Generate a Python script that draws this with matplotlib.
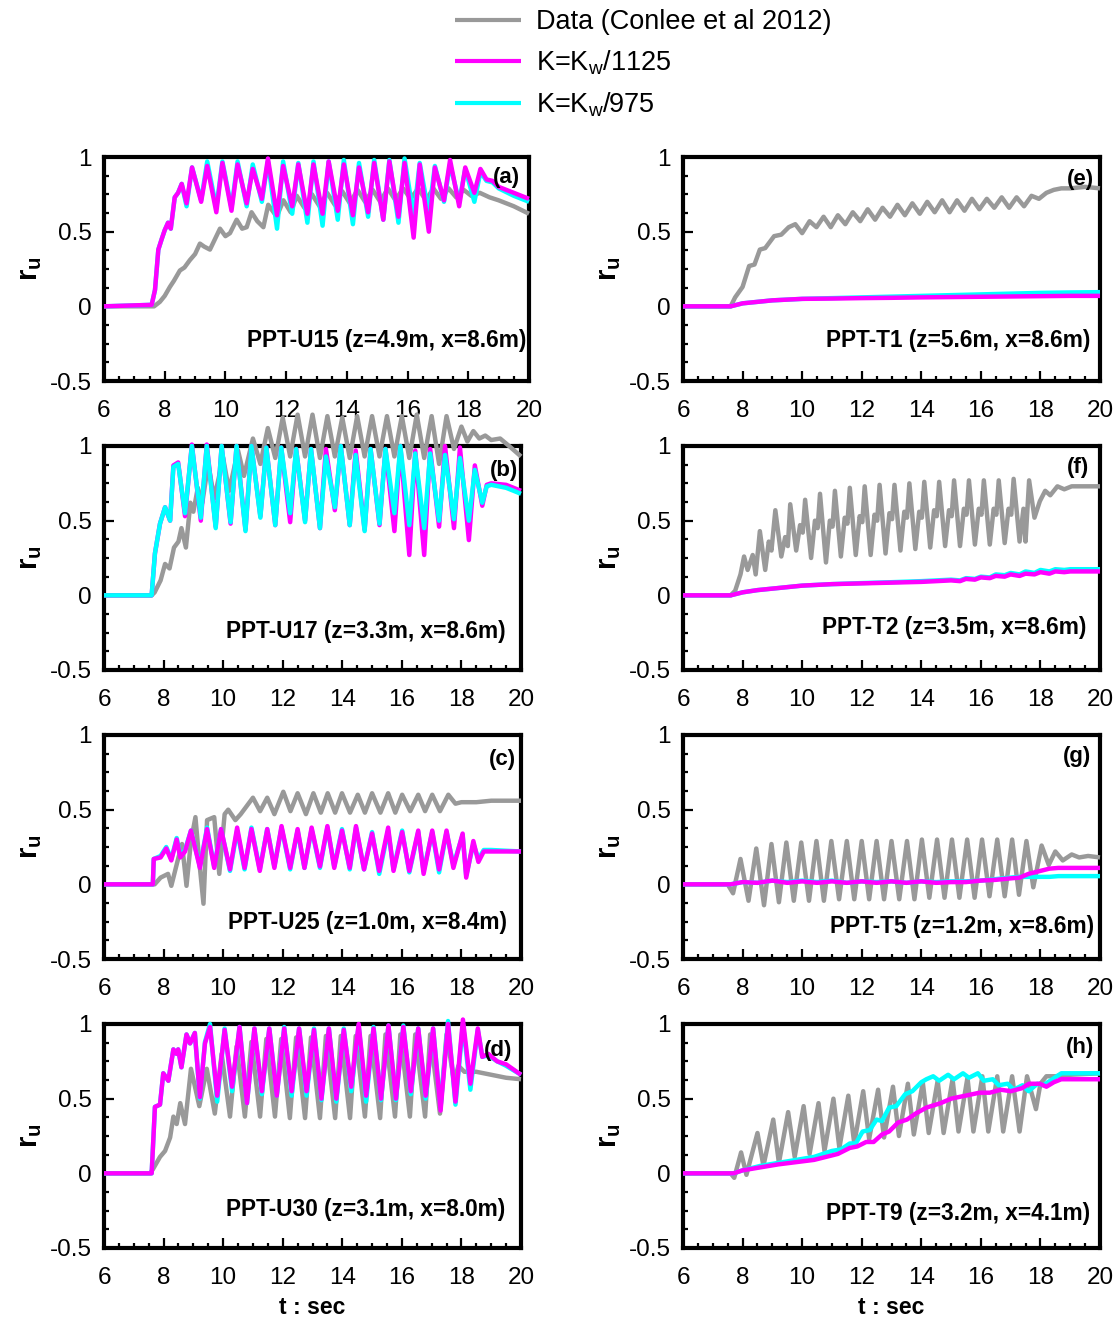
import matplotlib
matplotlib.use("Agg")
import matplotlib.pyplot as plt
from matplotlib.ticker import MultipleLocator

plt.rcParams['font.family'] = ['Liberation Sans', 'DejaVu Sans']
plt.rcParams['mathtext.fontset'] = 'custom'
plt.rcParams['mathtext.rm'] = 'Liberation Sans'
plt.rcParams['mathtext.it'] = 'Liberation Sans:italic'
plt.rcParams['mathtext.bf'] = 'Liberation Sans:bold'

# ---------------- data ----------------
series_labels = ['Data (Conlee et al 2012)', r'K=K$_\mathregular{w}$/1125', r'K=K$_\mathregular{w}$/975']
panel_letters = ['(a)', '(b)', '(c)', '(d)', '(e)', '(f)', '(g)', '(h)']
panel_titles = ['PPT-U15 (z=4.9m, x=8.6m)', 'PPT-U17 (z=3.3m, x=8.6m)',
                'PPT-U25 (z=1.0m, x=8.4m)', 'PPT-U30 (z=3.1m, x=8.0m)',
                'PPT-T1 (z=5.6m, x=8.6m)', 'PPT-T2 (z=3.5m, x=8.6m)',
                'PPT-T5 (z=1.2m, x=8.6m)', 'PPT-T9 (z=3.2m, x=4.1m)']
x_ticks = [6, 8, 10, 12, 14, 16, 18, 20]
y_ticks = [-0.5, 0, 0.5, 1]
y_tick_labels = ['-0.5', '0', '0.5', '1']

# (a) PPT-U15
a_data_t = [6.0, 7.5, 7.65, 7.84, 8.0, 8.17, 8.3, 8.5, 8.65, 8.83,
            9.0, 9.16, 9.3, 9.49, 9.82, 10.0, 10.15, 10.37, 10.55, 10.7,
            10.86, 11.05, 11.25, 11.41, 11.69, 11.91, 12.15, 12.35, 12.6, 12.85,
            13.1, 13.35, 13.6, 13.85, 14.1, 14.35, 14.6, 14.85, 15.1, 15.35,
            15.6, 15.85, 16.1, 16.35, 16.6, 16.85, 17.1, 17.35, 17.6, 17.85,
            18.1, 18.38, 18.7, 19.0, 19.5, 20.0]
a_data_v = [0.0, 0.0, 0.0, 0.03, 0.07, 0.13, 0.17, 0.24, 0.26, 0.31,
            0.35, 0.42, 0.40, 0.38, 0.52, 0.47, 0.49, 0.58, 0.52, 0.53,
            0.63, 0.57, 0.53, 0.68, 0.60, 0.71, 0.63, 0.74, 0.66, 0.75,
            0.67, 0.76, 0.68, 0.77, 0.69, 0.78, 0.70, 0.78, 0.70, 0.79,
            0.71, 0.79, 0.72, 0.79, 0.71, 0.79, 0.72, 0.79, 0.73, 0.78,
            0.74, 0.76, 0.73, 0.71, 0.67, 0.62]
a_sim_t = [6.0, 7.57, 7.68, 7.79, 7.9, 8.0, 8.11, 8.2, 8.33, 8.44,
           8.56, 8.72, 8.9, 9.2, 9.4, 9.7, 9.9, 10.2, 10.4, 10.7,
           10.9, 11.2, 11.4, 11.7, 11.9, 12.2, 12.4, 12.7, 12.9, 13.2,
           13.4, 13.7, 13.9, 14.2, 14.4, 14.7, 14.9, 15.2, 15.4, 15.7,
           15.9, 16.2, 16.4, 16.7, 16.9, 17.2, 17.4, 17.7, 17.9, 18.2,
           18.4, 18.6, 18.8, 19.0, 19.5, 20.0]
a_k1125_v = [0.0, 0.01, 0.11, 0.38, 0.45, 0.51, 0.56, 0.52, 0.73, 0.76,
             0.82, 0.69, 0.93, 0.70, 0.94, 0.63, 0.96, 0.64, 0.95, 0.69,
             0.92, 0.72, 0.99, 0.61, 0.94, 0.67, 0.95, 0.62, 0.95, 0.62,
             0.97, 0.64, 0.95, 0.61, 0.93, 0.63, 0.96, 0.58, 0.97, 0.60,
             0.96, 0.46, 0.95, 0.50, 0.93, 0.71, 0.98, 0.67, 0.93, 0.76,
             0.92, 0.85, 0.84, 0.80, 0.76, 0.72]
a_k975_v = [0.0, 0.01, 0.11, 0.38, 0.45, 0.51, 0.56, 0.52, 0.73, 0.76,
            0.82, 0.67, 0.93, 0.71, 0.97, 0.66, 0.97, 0.66, 0.97, 0.67,
            0.95, 0.70, 0.97, 0.52, 0.97, 0.62, 0.96, 0.56, 0.97, 0.54,
            0.97, 0.58, 0.98, 0.55, 0.96, 0.60, 0.98, 0.58, 0.98, 0.56,
            0.99, 0.60, 0.96, 0.62, 0.94, 0.70, 0.95, 0.70, 0.92, 0.70,
            0.90, 0.84, 0.83, 0.79, 0.74, 0.70]

# (b) PPT-U17
b_data_t = [6.0, 7.6, 7.7, 7.9, 8.05, 8.2, 8.35, 8.5, 8.6, 8.75,
            8.9, 9.0, 9.15, 9.3, 9.5, 9.7, 10.0, 10.2, 10.5, 10.7,
            11.0, 11.25, 11.5, 11.75, 12.0, 12.25, 12.5, 12.75, 13.0, 13.25,
            13.5, 13.75, 14.0, 14.25, 14.5, 14.75, 15.0, 15.25, 15.5, 15.75,
            16.0, 16.25, 16.5, 16.75, 17.0, 17.25, 17.5, 17.75, 18.0, 18.2,
            18.4, 18.6, 18.8, 19.0, 19.3, 19.6, 20.0]
b_data_v = [0.0, 0.0, 0.02, 0.10, 0.21, 0.18, 0.32, 0.36, 0.45, 0.32,
            0.62, 0.56, 0.72, 0.62, 0.88, 0.65, 0.92, 0.70, 0.97, 0.80,
            1.05, 0.88, 1.12, 0.92, 1.19, 0.93, 1.21, 0.93, 1.21, 0.92,
            1.20, 0.93, 1.19, 0.92, 1.20, 0.93, 1.20, 0.93, 1.20, 0.93,
            1.20, 0.92, 1.21, 0.92, 1.20, 0.88, 1.20, 0.98, 1.13, 1.03,
            1.10, 1.05, 1.07, 1.04, 1.05, 1.00, 0.93]
b_sim_t = [6.0, 7.6, 7.71, 7.88, 8.05, 8.22, 8.33, 8.49, 8.72, 8.95,
           9.25, 9.45, 9.75, 9.95, 10.25, 10.45, 10.75, 10.95, 11.25, 11.45,
           11.75, 11.95, 12.25, 12.45, 12.75, 12.95, 13.25, 13.45, 13.75, 13.95,
           14.25, 14.45, 14.75, 14.95, 15.25, 15.45, 15.75, 15.95, 16.25, 16.45,
           16.75, 16.95, 17.25, 17.45, 17.75, 17.95, 18.25, 18.45, 18.7, 18.85,
           19.0, 19.5, 20.0]
b_k1125_v = [0.0, 0.0, 0.28, 0.48, 0.59, 0.50, 0.87, 0.89, 0.53, 1.01,
             0.50, 1.01, 0.46, 1.0, 0.48, 1.0, 0.44, 1.0, 0.53, 0.99,
             0.47, 0.99, 0.49, 0.98, 0.50, 0.98, 0.45, 0.98, 0.57, 1.0,
             0.47, 0.97, 0.44, 0.98, 0.47, 0.98, 0.43, 1.0, 0.27, 0.97,
             0.27, 0.98, 0.46, 1.0, 0.45, 0.99, 0.37, 0.87, 0.60, 0.74,
             0.75, 0.74, 0.70]
b_k975_v = [0.0, 0.0, 0.28, 0.48, 0.59, 0.50, 0.86, 0.88, 0.55, 1.0,
            0.52, 1.0, 0.45, 1.0, 0.49, 1.0, 0.43, 1.0, 0.52, 0.99,
            0.47, 0.99, 0.55, 0.98, 0.49, 0.98, 0.45, 0.93, 0.59, 1.0,
            0.47, 0.94, 0.43, 0.98, 0.48, 0.98, 0.55, 1.0, 0.47, 0.95,
            0.45, 0.95, 0.50, 0.94, 0.51, 0.92, 0.50, 0.84, 0.62, 0.73,
            0.74, 0.72, 0.68]

# (c) PPT-U25
c_data_t = [6.0, 7.7, 7.9, 8.15, 8.26, 8.5, 8.62, 8.77, 8.92, 9.07,
            9.22, 9.34, 9.46, 9.7, 9.87, 10.05, 10.17, 10.41, 10.59, 11.0,
            11.24, 11.48, 11.72, 12.02, 12.26, 12.5, 12.78, 13.03, 13.28, 13.51,
            13.76, 13.99, 14.26, 14.52, 14.76, 15.0, 15.28, 15.54, 15.78, 16.01,
            16.28, 16.55, 16.78, 17.02, 17.28, 17.56, 17.8, 18.0, 18.5, 19.0,
            20.0]
c_data_v = [0.0, 0.0, 0.045, 0.07, -0.01, 0.18, 0.27, -0.01, 0.29, 0.45,
            0.11, -0.13, 0.43, 0.45, 0.07, 0.47, 0.50, 0.43, 0.47, 0.58,
            0.49, 0.58, 0.47, 0.62, 0.49, 0.61, 0.47, 0.61, 0.48, 0.61,
            0.48, 0.61, 0.48, 0.60, 0.48, 0.61, 0.48, 0.61, 0.48, 0.60,
            0.49, 0.60, 0.49, 0.60, 0.49, 0.60, 0.54, 0.55, 0.55, 0.56,
            0.56]
c_sim_t = [6.0, 7.64, 7.67, 7.9, 8.09, 8.26, 8.44, 8.56, 8.72, 8.92,
           9.22, 9.46, 9.7, 9.93, 10.23, 10.47, 10.72, 10.95, 11.23, 11.48,
           11.72, 11.96, 12.25, 12.5, 12.73, 12.97, 13.25, 13.5, 13.73, 13.99,
           14.25, 14.46, 14.73, 15.0, 15.24, 15.54, 15.72, 16.01, 16.25, 16.55,
           16.73, 17.02, 17.25, 17.5, 17.73, 18.04, 18.16, 18.4, 18.57, 18.75,
           19.0, 20.0]
c_k1125_v = [0.0, 0.0, 0.17, 0.18, 0.24, 0.16, 0.30, 0.18, 0.22, 0.36,
             0.11, 0.37, 0.11, 0.37, 0.10, 0.38, 0.11, 0.37, 0.09, 0.37,
             0.11, 0.39, 0.11, 0.37, 0.11, 0.38, 0.12, 0.39, 0.11, 0.36,
             0.11, 0.39, 0.10, 0.34, 0.09, 0.38, 0.09, 0.35, 0.09, 0.36,
             0.07, 0.36, 0.10, 0.36, 0.11, 0.34, 0.045, 0.29, 0.15, 0.22,
             0.22, 0.22]
c_k975_v = [0.0, 0.0, 0.17, 0.19, 0.25, 0.17, 0.31, 0.19, 0.23, 0.36,
            0.12, 0.38, 0.12, 0.37, 0.09, 0.36, 0.10, 0.38, 0.10, 0.37,
            0.12, 0.38, 0.10, 0.36, 0.11, 0.37, 0.11, 0.38, 0.12, 0.37,
            0.10, 0.38, 0.10, 0.35, 0.07, 0.36, 0.10, 0.36, 0.08, 0.35,
            0.09, 0.35, 0.08, 0.35, 0.13, 0.33, 0.06, 0.27, 0.17, 0.23,
            0.23, 0.22]

# (d) PPT-U30
d_data_t = [6.0, 7.55, 7.65, 7.88, 8.05, 8.22, 8.33, 8.44, 8.56, 8.72,
            8.92, 9.2, 9.45, 9.72, 9.95, 10.23, 10.45, 10.73, 10.95, 11.24,
            11.45, 11.74, 11.95, 12.24, 12.45, 12.75, 12.95, 13.25, 13.45, 13.76,
            13.95, 14.26, 14.45, 14.76, 14.95, 15.27, 15.45, 15.77, 15.95, 16.27,
            16.45, 16.78, 16.95, 17.28, 17.5, 17.75, 17.9, 18.1, 18.5, 19.0,
            19.5, 20.0]
d_data_v = [0.0, 0.0, 0.03, 0.11, 0.15, 0.24, 0.38, 0.33, 0.47, 0.33,
            0.70, 0.45, 0.70, 0.40, 0.80, 0.38, 0.85, 0.38, 0.88, 0.38,
            0.90, 0.38, 0.90, 0.37, 0.91, 0.37, 0.91, 0.37, 0.92, 0.37,
            0.92, 0.37, 0.92, 0.38, 0.92, 0.37, 0.93, 0.38, 0.93, 0.38,
            0.93, 0.38, 0.93, 0.40, 0.93, 0.62, 0.72, 0.68, 0.68, 0.66,
            0.64, 0.63]
d_sim_t = [6.0, 7.6, 7.71, 7.88, 7.99, 8.16, 8.33, 8.44, 8.49, 8.6,
           8.77, 8.89, 9.05, 9.22, 9.39, 9.56, 9.8, 10.05, 10.3, 10.55,
           10.8, 11.05, 11.3, 11.55, 11.8, 12.05, 12.3, 12.55, 12.8, 13.05,
           13.3, 13.55, 13.8, 14.05, 14.3, 14.55, 14.8, 15.05, 15.3, 15.55,
           15.8, 16.05, 16.3, 16.55, 16.8, 17.05, 17.3, 17.55, 17.8, 18.05,
           18.3, 18.55, 18.7, 18.9, 19.2, 19.5, 20.0]
d_k1125_v = [0.0, 0.0, 0.445, 0.46, 0.67, 0.62, 0.83, 0.80, 0.83, 0.71,
             0.93, 0.87, 0.94, 0.51, 0.87, 0.98, 0.52, 0.96, 0.58, 0.98,
             0.47, 0.97, 0.55, 0.97, 0.52, 0.97, 0.55, 0.97, 0.55, 0.96,
             0.50, 0.97, 0.50, 0.96, 0.58, 1.0, 0.52, 0.97, 0.50, 0.99,
             0.50, 0.98, 0.55, 0.97, 0.52, 0.97, 0.42, 1.0, 0.48, 1.03,
             0.60, 0.97, 0.78, 0.80, 0.75, 0.73, 0.66]
d_k975_v = [0.0, 0.0, 0.445, 0.46, 0.67, 0.62, 0.83, 0.80, 0.83, 0.71,
            0.93, 0.87, 0.94, 0.50, 0.88, 1.0, 0.48, 0.97, 0.55, 0.98,
            0.47, 0.97, 0.53, 0.97, 0.52, 0.98, 0.52, 0.97, 0.52, 0.97,
            0.49, 0.97, 0.48, 0.97, 0.55, 0.99, 0.48, 0.98, 0.49, 0.99,
            0.49, 0.99, 0.53, 0.97, 0.50, 0.97, 0.44, 1.02, 0.46, 1.0,
            0.56, 0.96, 0.78, 0.79, 0.75, 0.72, 0.66]

# (e) PPT-T1
e_data_t = [6.0, 7.6, 7.75, 8.0, 8.22, 8.4, 8.58, 8.76, 9.06, 9.3,
            9.55, 9.77, 10.0, 10.25, 10.48, 10.72, 10.96, 11.2, 11.45, 11.7,
            11.95, 12.2, 12.45, 12.7, 12.95, 13.2, 13.45, 13.7, 13.95, 14.2,
            14.45, 14.7, 14.95, 15.2, 15.45, 15.7, 15.95, 16.2, 16.45, 16.7,
            16.95, 17.2, 17.45, 17.7, 17.95, 18.2, 18.45, 18.7, 19.0, 19.5,
            20.0]
e_data_v = [0.0, 0.0, 0.06, 0.13, 0.27, 0.28, 0.38, 0.39, 0.47, 0.48,
            0.53, 0.55, 0.49, 0.57, 0.53, 0.60, 0.53, 0.61, 0.55, 0.63,
            0.57, 0.65, 0.58, 0.66, 0.60, 0.68, 0.61, 0.69, 0.62, 0.70,
            0.63, 0.71, 0.63, 0.71, 0.64, 0.72, 0.65, 0.72, 0.66, 0.73,
            0.66, 0.73, 0.67, 0.74, 0.72, 0.76, 0.78, 0.79, 0.79, 0.80,
            0.79]
e_sim_t = [6.0, 7.6, 7.8, 8.0, 8.5, 9.0, 10.0, 11.0, 12.0, 13.0,
           14.0, 15.0, 16.0, 17.0, 18.0, 19.0, 20.0]
e_k1125_v = [0.0, 0.0, 0.01, 0.02, 0.03, 0.04, 0.05, 0.052, 0.055, 0.057,
             0.06, 0.062, 0.064, 0.066, 0.068, 0.07, 0.07]
e_k975_v = [0.0, 0.0, 0.01, 0.02, 0.03, 0.04, 0.05, 0.055, 0.06, 0.065,
            0.07, 0.075, 0.08, 0.085, 0.09, 0.093, 0.095]

# (f) PPT-T2
f_data_t = [6.0, 7.6, 7.75, 7.93, 8.05, 8.17, 8.34, 8.44, 8.58, 8.76,
            8.88, 8.97, 9.1, 9.3, 9.43, 9.52, 9.6, 9.8, 9.93, 10.02,
            10.1, 10.3, 10.43, 10.52, 10.6, 10.8, 10.93, 11.02, 11.1, 11.3,
            11.43, 11.52, 11.6, 11.8, 11.93, 12.02, 12.1, 12.3, 12.43, 12.52,
            12.6, 12.8, 12.93, 13.02, 13.1, 13.3, 13.43, 13.52, 13.6, 13.8,
            13.93, 14.02, 14.1, 14.3, 14.43, 14.52, 14.6, 14.8, 14.93, 15.02,
            15.1, 15.3, 15.43, 15.52, 15.6, 15.8, 15.93, 16.02, 16.1, 16.3,
            16.43, 16.52, 16.6, 16.8, 16.93, 17.02, 17.1, 17.3, 17.43, 17.5,
            17.62, 17.8, 17.98, 18.16, 18.33, 18.57, 18.8, 19.05, 20.0]
f_data_v = [0.0, 0.0, 0.03, 0.14, 0.26, 0.17, 0.27, 0.14, 0.43, 0.17,
            0.36, 0.30, 0.57, 0.26, 0.39, 0.33, 0.61, 0.30, 0.47, 0.42,
            0.64, 0.25, 0.50, 0.45, 0.68, 0.22, 0.50, 0.46, 0.70, 0.26,
            0.52, 0.48, 0.72, 0.27, 0.53, 0.49, 0.73, 0.27, 0.54, 0.50,
            0.74, 0.28, 0.55, 0.51, 0.74, 0.30, 0.56, 0.52, 0.75, 0.31,
            0.56, 0.52, 0.76, 0.32, 0.57, 0.53, 0.76, 0.33, 0.57, 0.53,
            0.77, 0.33, 0.58, 0.54, 0.77, 0.34, 0.58, 0.54, 0.77, 0.34,
            0.58, 0.54, 0.77, 0.35, 0.58, 0.54, 0.78, 0.36, 0.58, 0.36,
            0.77, 0.52, 0.63, 0.70, 0.67, 0.73, 0.71, 0.73, 0.73]
f_sim_t = [6.0, 7.6, 8.0, 8.5, 9.0, 9.5, 10.0, 11.0, 12.0, 13.0,
           14.0, 14.5, 15.0, 15.3, 15.5, 15.8, 16.0, 16.3, 16.5, 16.8,
           17.0, 17.3, 17.5, 17.8, 18.0, 18.3, 18.5, 18.8, 19.0, 20.0]
f_k1125_v = [0.0, 0.0, 0.02, 0.035, 0.045, 0.055, 0.065, 0.075, 0.08, 0.085,
             0.09, 0.095, 0.10, 0.095, 0.11, 0.105, 0.12, 0.115, 0.13, 0.125,
             0.14, 0.13, 0.145, 0.14, 0.155, 0.145, 0.16, 0.155, 0.16, 0.16]
f_k975_v = [0.0, 0.0, 0.02, 0.035, 0.045, 0.055, 0.065, 0.075, 0.082, 0.088,
            0.095, 0.10, 0.105, 0.10, 0.115, 0.11, 0.125, 0.12, 0.14, 0.135,
            0.15, 0.14, 0.16, 0.15, 0.17, 0.16, 0.175, 0.17, 0.175, 0.175]

# (g) PPT-T5
g_data_t = [6.0, 7.5, 7.68, 7.93, 8.2, 8.46, 8.72, 8.97, 9.22, 9.47,
            9.72, 9.97, 10.23, 10.48, 10.73, 10.98, 11.24, 11.5, 11.75, 12.0,
            12.25, 12.5, 12.75, 13.0, 13.26, 13.52, 13.77, 14.02, 14.27, 14.53,
            14.78, 15.03, 15.28, 15.54, 15.79, 16.04, 16.29, 16.55, 16.8, 17.05,
            17.28, 17.53, 17.76, 18.04, 18.28, 18.5, 18.75, 19.05, 19.3, 19.6,
            20.0]
g_data_v = [0.0, 0.0, -0.06, 0.17, -0.11, 0.24, -0.14, 0.27, -0.12, 0.28,
            -0.11, 0.28, -0.11, 0.29, -0.11, 0.29, -0.10, 0.29, -0.10, 0.29,
            -0.10, 0.29, -0.10, 0.29, -0.10, 0.29, -0.10, 0.30, -0.09, 0.30,
            -0.09, 0.30, -0.09, 0.30, -0.09, 0.30, -0.08, 0.30, -0.08, 0.30,
            -0.07, 0.29, -0.02, 0.26, 0.13, 0.22, 0.16, 0.20, 0.18, 0.19,
            0.18]
g_sim_t = [6.0, 7.6, 8.0, 8.5, 9.0, 9.5, 10.0, 10.5, 11.0, 11.5,
           12.0, 12.5, 13.0, 13.5, 14.0, 14.5, 15.0, 15.5, 16.0, 16.5,
           17.0, 17.3, 17.6, 18.0, 18.3, 18.6, 20.0]
g_k1125_v = [0.0, 0.0, 0.015, 0.01, 0.025, 0.01, 0.02, 0.01, 0.02, 0.01,
             0.02, 0.01, 0.02, 0.01, 0.02, 0.01, 0.015, 0.015, 0.025, 0.03,
             0.04, 0.045, 0.07, 0.09, 0.105, 0.11, 0.11]
g_k975_v = [0.0, 0.0, 0.015, 0.01, 0.025, 0.015, 0.025, 0.015, 0.025, 0.01,
            0.02, 0.015, 0.02, 0.01, 0.02, 0.015, 0.02, 0.02, 0.025, 0.035,
            0.045, 0.05, 0.05, 0.05, 0.05, 0.055, 0.055]

# (h) PPT-T9
h_data_t = [6.0, 7.6, 7.72, 7.95, 8.13, 8.5, 8.7, 9.03, 9.22, 9.53,
            9.75, 10.05, 10.25, 10.55, 10.75, 11.05, 11.25, 11.55, 11.75, 12.05,
            12.25, 12.55, 12.75, 13.05, 13.25, 13.55, 13.75, 14.05, 14.25, 14.55,
            14.75, 15.05, 15.25, 15.55, 15.75, 16.05, 16.25, 16.55, 16.75, 17.05,
            17.3, 17.55, 17.85, 18.0, 18.2, 18.5, 19.0, 20.0]
h_data_v = [0.0, 0.0, -0.03, 0.14, -0.01, 0.27, 0.05, 0.36, 0.07, 0.41,
            0.11, 0.45, 0.13, 0.47, 0.15, 0.50, 0.17, 0.52, 0.20, 0.55,
            0.23, 0.56, 0.24, 0.58, 0.25, 0.60, 0.26, 0.61, 0.27, 0.62,
            0.27, 0.63, 0.28, 0.64, 0.28, 0.65, 0.28, 0.65, 0.28, 0.65,
            0.28, 0.65, 0.43, 0.60, 0.65, 0.65, 0.66, 0.67]
h_k1125_t = [6.0, 7.7, 8.0, 9.2, 10.4, 11.2, 11.6, 11.85, 12.15, 12.4,
             12.68, 12.92, 13.22, 13.52, 13.81, 14.17, 14.65, 15.0, 15.48, 15.96,
             16.3, 16.67, 17.0, 17.38, 17.62, 17.98, 18.2, 18.45, 18.7, 20.0]
h_k1125_v = [0.0, 0.0, 0.02, 0.06, 0.09, 0.13, 0.17, 0.18, 0.21, 0.21,
             0.26, 0.28, 0.34, 0.36, 0.40, 0.44, 0.47, 0.50, 0.52, 0.54,
             0.54, 0.56, 0.55, 0.57, 0.60, 0.60, 0.58, 0.61, 0.63, 0.63]
h_k975_t = [6.0, 7.7, 8.0, 8.6, 9.2, 9.8, 10.4, 11.0, 11.3, 11.6,
            11.8, 12.03, 12.27, 12.5, 12.68, 12.92, 13.16, 13.46, 13.7, 14.0,
            14.17, 14.4, 14.6, 14.9, 15.1, 15.4, 15.6, 15.9, 16.1, 16.4,
            16.6, 16.9, 17.1, 17.4, 17.6, 17.9, 18.1, 18.4, 18.7, 20.0]
h_k975_v = [0.0, 0.0, 0.02, 0.05, 0.07, 0.09, 0.11, 0.15, 0.16, 0.20,
            0.20, 0.28, 0.29, 0.36, 0.35, 0.44, 0.45, 0.53, 0.55, 0.61,
            0.63, 0.65, 0.62, 0.66, 0.63, 0.67, 0.64, 0.67, 0.62, 0.63,
            0.59, 0.60, 0.56, 0.59, 0.55, 0.60, 0.59, 0.63, 0.67, 0.67]

# ---------------- layout / style ----------------
W, H = 1118, 1318
GRAY, MAGENTA, CYAN = '#999999', '#ff00ff', '#00ffff'

fig = plt.figure(figsize=(W / 100, H / 100), dpi=100)


def px_axes(x0, y0, x1, y1):
    return fig.add_axes([x0 / W, 1 - y1 / H, (x1 - x0) / W, (y1 - y0) / H])


panels = [
    # box, data, k1125, k975, cyan-on-top, letter pos, title pos
    ((104, 157, 529, 381), (a_data_t, a_data_v), (a_sim_t, a_k1125_v), (a_sim_t, a_k975_v), False, (0.979, 0.91), (0.993, 0.18)),
    ((104, 446, 521, 670), (b_data_t, b_data_v), (b_sim_t, b_k1125_v), (b_sim_t, b_k975_v), True, (0.993, 0.89), (0.962, 0.17)),
    ((104, 735, 521, 959), (c_data_t, c_data_v), (c_sim_t, c_k1125_v), (c_sim_t, c_k975_v), False, (0.988, 0.89), (0.967, 0.165)),
    ((104, 1024, 521, 1248), (d_data_t, d_data_v), (d_sim_t, d_k1125_v), (d_sim_t, d_k975_v), False, (0.979, 0.88), (0.962, 0.17)),
    ((683, 157, 1100, 381), (e_data_t, e_data_v), (e_sim_t, e_k1125_v), (e_sim_t, e_k975_v), False, (0.986, 0.90), (0.976, 0.18)),
    ((683, 446, 1100, 670), (f_data_t, f_data_v), (f_sim_t, f_k1125_v), (f_sim_t, f_k975_v), False, (0.974, 0.906), (0.968, 0.19)),
    ((683, 735, 1100, 959), (g_data_t, g_data_v), (g_sim_t, g_k1125_v), (g_sim_t, g_k975_v), False, (0.978, 0.906), (0.986, 0.147)),
    ((683, 1024, 1100, 1248), (h_data_t, h_data_v), (h_k1125_t, h_k1125_v), (h_k975_t, h_k975_v), False, (0.986, 0.897), (0.976, 0.152)),
]

LW = 3.2
handles = None
for i, (box, dat, k1, k2, cyan_top, lpos, tpos) in enumerate(panels):
    ax = px_axes(*box)
    kw = dict(lw=LW, clip_on=False, solid_joinstyle='round', solid_capstyle='butt')
    hd, = ax.plot(dat[0], dat[1], color=GRAY, zorder=3, **kw)
    if cyan_top:
        hm, = ax.plot(k1[0], k1[1], color=MAGENTA, zorder=4, **kw)
        hc, = ax.plot(k2[0], k2[1], color=CYAN, zorder=5, **kw)
    else:
        hc, = ax.plot(k2[0], k2[1], color=CYAN, zorder=4, **kw)
        hm, = ax.plot(k1[0], k1[1], color=MAGENTA, zorder=5, **kw)
    if handles is None:
        handles = [hd, hm, hc]

    ax.set_xlim(6, 20)
    ax.set_ylim(-0.5, 1)
    ax.set_xticks(x_ticks)
    ax.set_xticklabels([str(v) for v in x_ticks])
    ax.set_yticks(y_ticks)
    ax.set_yticklabels(y_tick_labels)
    ax.xaxis.set_minor_locator(MultipleLocator(0.5))
    ax.yaxis.set_minor_locator(MultipleLocator(0.125))
    ax.tick_params(which='both', direction='in', top=False, right=False, width=1.6, labelsize=17.5)
    ax.tick_params(which='major', length=7.5)
    ax.tick_params(which='minor', length=3.5)
    ax.tick_params(axis='y', pad=9)
    ax.tick_params(axis='x', pad=14)
    for sp in ax.spines.values():
        sp.set_linewidth(3)
    ax.set_ylabel(r'$\mathbf{r}_\mathbf{u}$', fontsize=21, labelpad=4)
    if i in (3, 7):
        ax.set_xlabel('t : sec', fontsize=16.5, fontweight='bold', labelpad=5)
    ax.text(lpos[0], lpos[1], panel_letters[i], transform=ax.transAxes,
            ha='right', va='center', fontsize=16, fontweight='bold', zorder=6)
    ax.text(tpos[0], tpos[1], panel_titles[i], transform=ax.transAxes,
            ha='right', va='center', fontsize=16.3, fontweight='bold', zorder=6)

leg = fig.legend(handles, series_labels, loc='upper left',
                 bbox_to_anchor=(455 / W, 1 - 9 / H), frameon=False,
                 fontsize=19.5, handlelength=2.45, handletextpad=0.55,
                 labelspacing=0.5, borderpad=0, borderaxespad=0)
for ln in leg.get_lines():
    ln.set_linewidth(3)

fig.savefig('out.png', dpi=100)
